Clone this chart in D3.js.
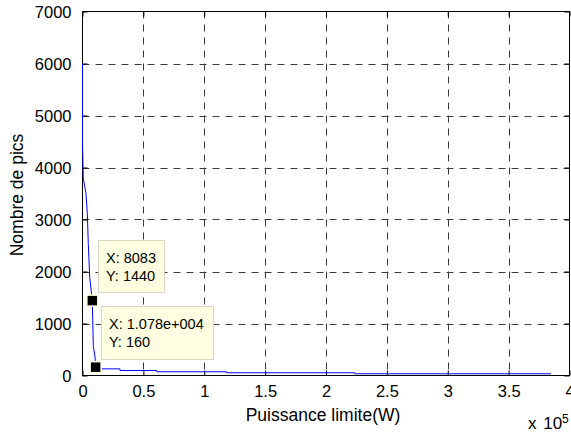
<!DOCTYPE html>
<html><head><meta charset="utf-8">
<script src="https://cdn.jsdelivr.net/npm/d3@7"></script>
<style>body{margin:0;background:#fff}svg{display:block}text{font-family:"Liberation Sans",Arial,Helvetica,sans-serif;fill:#000}</style>
</head><body>
<svg id="c" width="571" height="434"></svg>
<script>
// data
const xVals = [0, 0, 657, 2870, 3940, 4760, 5910, 8083, 8870, 10260, 10780, 12000, 30800, 30800, 60900, 60900, 118400, 118400, 223700, 223700, 384800];
const yVals = [6000, 4450, 3790, 3500, 3120, 2540, 1890, 1440, 560, 370, 160, 128, 128, 96, 96, 71, 71, 52, 52, 33, 33];
const xTicks = [0, 50000, 100000, 150000, 200000, 250000, 300000, 350000, 400000];
const xTickLabels = ["0", "0.5", "1", "1.5", "2", "2.5", "3", "3.5", "4"];
const yTicks = [0, 1000, 2000, 3000, 4000, 5000, 6000, 7000];
const tips = [
  {x: 8083, y: 1440, lines: ["X: 8083", "Y: 1440"]},
  {x: 10780, y: 160, lines: ["X: 1.078e+004", "Y: 160"]}
];
const xLabel = "Puissance limite(W)";
const yLabel = "Nombre de pics";

const svg = d3.select("#c");
const L = 82.5, R = 569.5, T = 11.5, B = 375.5;
const x = d3.scaleLinear().domain([0, 400000]).range([L, R]);
const y = d3.scaleLinear().domain([0, 7000]).range([B, T]);

// grid
const g = svg.append("g");
g.selectAll(".gx").data(xTicks.slice(1, -1)).enter().append("line")
  .attr("x1", d => Math.round(x(d)) + 0.5).attr("x2", d => Math.round(x(d)) + 0.5)
  .attr("y1", T).attr("y2", B)
  .attr("stroke", "#3a3a3a").attr("stroke-width", 1).attr("stroke-dasharray", "7,6");
g.selectAll(".gy").data(yTicks.slice(1, -1)).enter().append("line")
  .attr("y1", d => Math.round(y(d)) + 0.5).attr("y2", d => Math.round(y(d)) + 0.5)
  .attr("x1", L).attr("x2", R)
  .attr("stroke", "#3a3a3a").attr("stroke-width", 1).attr("stroke-dasharray", "7,6");

// axes box
svg.append("rect").attr("x", L).attr("y", T).attr("width", R - L).attr("height", B - T)
  .attr("fill", "none").attr("stroke", "#000").attr("stroke-width", 1);

// ticks (inside) using d3 axes
const ax = d3.axisBottom(x).tickValues(xTicks).tickSize(-5).tickFormat((d, i) => xTickLabels[i]);
const axB = svg.append("g").attr("transform", `translate(0,${B})`).call(ax);
const axT = svg.append("g").attr("transform", `translate(0,${T})`).call(d3.axisTop(x).tickValues(xTicks).tickSize(-5).tickFormat(""));
const ay = d3.axisLeft(y).tickValues(yTicks).tickSize(-5).tickFormat(d3.format("d")).tickPadding(11);
const axL = svg.append("g").attr("transform", `translate(${L},0)`).call(ay);
const axR = svg.append("g").attr("transform", `translate(${R},0)`).call(d3.axisRight(y).tickValues(yTicks).tickSize(-5).tickFormat(""));
[axB, axT, axL, axR].forEach(a => {
  a.select(".domain").remove();
  a.selectAll("line").attr("stroke", "#000");
  a.selectAll("text").attr("font-family", "Liberation Sans, Arial, sans-serif").attr("font-size", 16.5).attr("fill", "#000");
});
axB.selectAll("text").attr("dy", null).attr("y", 21);
axL.selectAll("text").attr("dy", "0.36em");

// line (drawn over the axes, as in the reference)
const pts = xVals.map((v, i) => [v, yVals[i]]);
svg.append("path").datum(pts)
  .attr("d", d3.line().x(d => x(d[0])).y(d => y(d[1])))
  .attr("fill", "none").attr("stroke", "#0000ff").attr("stroke-width", 1);

// axis labels
svg.append("text").attr("x", 323).attr("y", 421).attr("text-anchor", "middle")
  .attr("font-size", 17.5).text(xLabel);
svg.append("text").attr("transform", "translate(23,195) rotate(-90)").attr("text-anchor", "middle")
  .attr("font-size", 17.5).text(yLabel);
svg.append("text").attr("x", 528).attr("y", 429).attr("font-size", 17).attr("word-spacing", 2).text("x 10");
svg.append("text").attr("x", 562).attr("y", 423).attr("font-size", 12).text("5");

// datatips
const boxes = [
  {bx: 98.5, by: 240.5, bw: 66, bh: 52},
  {bx: 101.5, by: 306.5, bw: 112, bh: 53}
];
tips.forEach((t, i) => {
  const b = boxes[i];
  svg.append("rect").attr("x", b.bx).attr("y", b.by).attr("width", b.bw).attr("height", b.bh)
    .attr("fill", "#ffffe1").attr("stroke", "#d8d8c8").attr("stroke-width", 1);
  t.lines.forEach((s, j) => {
    svg.append("text").attr("x", b.bx + 7.5).attr("y", b.by + 22 + j * 18.5)
      .attr("font-size", 14.5).text(s);
  });
});
tips.forEach(t => {
  svg.append("rect").attr("x", x(t.x) - 5.5).attr("y", y(t.y) - 5.5).attr("width", 11).attr("height", 11)
    .attr("fill", "#000").attr("stroke", "#ffffe1").attr("stroke-width", 1.5);
});
</script>
</body></html>
